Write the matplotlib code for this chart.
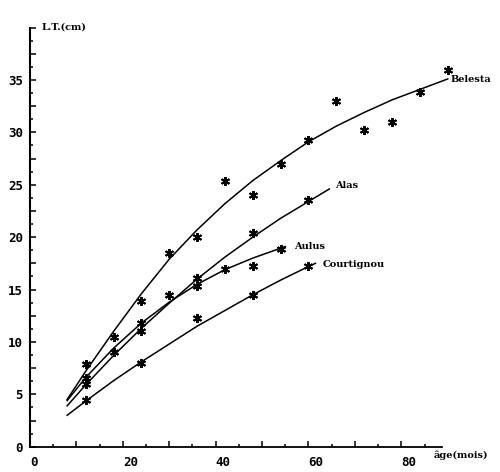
import matplotlib
matplotlib.use("Agg")
import matplotlib.pyplot as plt
from matplotlib.ticker import MultipleLocator, FuncFormatter

# observed points (age in months, total length in cm)
belesta_age = [12, 18, 24, 30, 36, 42, 48, 54, 60, 66, 72, 78, 84, 90]
belesta_lt = [7.9, 10.5, 13.9, 18.5, 20.0, 25.4, 24.0, 27.0, 29.3, 33.0, 30.2, 31.0, 33.9, 36.0]
alas_age = [12, 18, 24, 36, 48, 60]
alas_lt = [6.0, 9.0, 11.0, 16.1, 20.4, 23.5]
aulus_age = [12, 24, 30, 36, 42, 48, 54]
aulus_lt = [6.6, 11.8, 14.5, 15.3, 17.0, 17.2, 18.9]
court_age = [12, 24, 36, 48, 60]
court_lt = [4.5, 8.0, 12.3, 14.5, 17.2]

# growth curves
belesta_curve_t = [8, 12, 18, 24, 30, 36, 42, 48, 54, 60, 66, 72, 78, 84, 90]
belesta_curve_l = [4.5, 7.2, 11.0, 14.6, 17.9, 20.7, 23.2, 25.4, 27.3, 29.1, 30.6, 31.9, 33.1, 34.1, 35.1]
alas_curve_t = [8, 12, 18, 24, 30, 36, 42, 48, 54, 60, 64.5]
alas_curve_l = [3.9, 5.9, 8.7, 11.3, 13.7, 16.0, 18.1, 20.0, 21.8, 23.4, 24.6]
aulus_curve_t = [8, 12, 18, 24, 30, 36, 42, 48, 55]
aulus_curve_l = [4.4, 6.6, 9.4, 11.8, 13.8, 15.5, 16.9, 18.0, 19.1]
court_curve_t = [8, 12, 18, 24, 30, 36, 42, 48, 54, 60, 61.5]
court_curve_l = [3.0, 4.35, 6.3, 8.1, 9.8, 11.5, 13.0, 14.5, 15.9, 17.2, 17.5]

names = ["Belesta", "Alas", "Aulus", "Courtignou"]
label_pos = [(90.5, 35.0), (65.7, 24.9), (56.9, 19.1), (63.1, 17.4)]


def plot():
    fig = plt.figure(figsize=(5, 4.72), dpi=100)
    ax = fig.add_axes([30 / 500, 25.3 / 472, 411.7 / 500, 419.1 / 472])

    curves = [
        (belesta_curve_t, belesta_curve_l, belesta_age, belesta_lt),
        (alas_curve_t, alas_curve_l, alas_age, alas_lt),
        (aulus_curve_t, aulus_curve_l, aulus_age, aulus_lt),
        (court_curve_t, court_curve_l, court_age, court_lt),
    ]
    for (ct, cl, a, l), name, (lx, ly) in zip(curves, names, label_pos):
        ax.plot(ct, cl, color="black", lw=1.1, clip_on=False)
        ax.plot(a, l, linestyle="none", marker=(6, 2, 0), ms=6.5, mew=1.4,
                color="black", clip_on=False)
        ax.text(lx, ly, name, fontsize=7, family="DejaVu Serif", fontweight="bold",
                ha="left", va="center")

    ax.set_xlim(0, 88.7)
    ax.set_ylim(0, 40)
    for s in ["top", "right"]:
        ax.spines[s].set_visible(False)
    ax.spines["left"].set_linewidth(1.5)
    ax.spines["bottom"].set_linewidth(1.3)

    ax.xaxis.set_major_locator(MultipleLocator(10))
    ax.xaxis.set_minor_locator(MultipleLocator(5))
    ax.yaxis.set_major_locator(MultipleLocator(2.5))
    ax.yaxis.set_minor_locator(MultipleLocator(1.25))
    ax.xaxis.set_major_formatter(FuncFormatter(lambda v, p: "%d" % v if round(v) % 20 == 0 else ""))
    ax.yaxis.set_major_formatter(
        FuncFormatter(lambda v, p: "%d" % v if abs(v % 5) < 1e-6 and v < 39 else ""))
    ax.tick_params(which="major", direction="in", length=4.5, width=1.1, color="black")
    ax.tick_params(which="minor", direction="in", length=2.2, width=1.1, color="black")
    ax.tick_params(axis="x", pad=7)
    ax.tick_params(axis="y", pad=5)
    for t in ax.get_xticklabels() + ax.get_yticklabels():
        t.set_family("DejaVu Sans Mono")
        t.set_fontweight("bold")
        t.set_fontsize(9)
    for t in ax.get_xticklabels():
        t.set_horizontalalignment("left")

    ax.text(2.5, 40.1, "L.T.(cm)", fontsize=7, family="DejaVu Serif", fontweight="bold",
            ha="left", va="center", clip_on=False)
    ax.text(86.9, -0.8, "âge(mois)", fontsize=7, family="DejaVu Serif", fontweight="bold",
            ha="left", va="center", clip_on=False)

    fig.savefig("out.png", dpi=100)


if __name__ == "__main__":
    plot()
